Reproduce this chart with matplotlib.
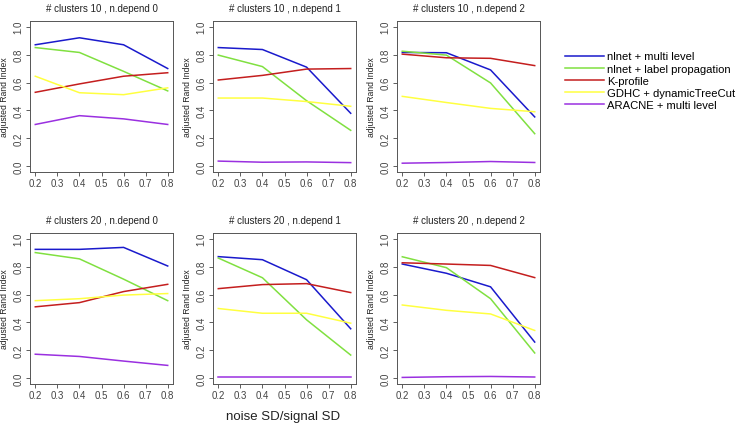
import matplotlib
matplotlib.use('Agg')
import matplotlib.pyplot as plt

plt.rcParams['font.family'] = ['Liberation Sans', 'DejaVu Sans']

noise = [0.2, 0.4, 0.6, 0.8]

methods = ['nlnet + multi level', 'nlnet + label propagation', 'K-profile',
           'GDHC + dynamicTreeCut', 'ARACNE + multi level']
colors = ['#1a1acc', '#80e040', '#c41e1e', '#ffff40', '#9a30e0']

titles = ['# clusters 10 , n.depend 0', '# clusters 10 , n.depend 1', '# clusters 10 , n.depend 2',
          '# clusters 20 , n.depend 0', '# clusters 20 , n.depend 1', '# clusters 20 , n.depend 2']

# one row per method: blue, green, red, yellow, purple
c10_d0 = [[0.87, 0.92, 0.87, 0.70],
          [0.85, 0.815, 0.68, 0.54],
          [0.53, 0.59, 0.645, 0.67],
          [0.645, 0.527, 0.513, 0.562],
          [0.30, 0.363, 0.34, 0.30]]
c10_d1 = [[0.85, 0.836, 0.71, 0.38],
          [0.796, 0.714, 0.47, 0.258],
          [0.618, 0.651, 0.696, 0.70],
          [0.489, 0.489, 0.464, 0.43],
          [0.038, 0.03, 0.032, 0.027]]
c10_d2 = [[0.815, 0.813, 0.69, 0.354],
          [0.824, 0.796, 0.597, 0.234],
          [0.803, 0.777, 0.773, 0.721],
          [0.501, 0.457, 0.415, 0.391],
          [0.023, 0.028, 0.035, 0.028]]
c20_d0 = [[0.923, 0.923, 0.937, 0.804],
          [0.90, 0.855, 0.71, 0.556],
          [0.512, 0.542, 0.621, 0.673],
          [0.556, 0.57, 0.596, 0.607],
          [0.173, 0.157, 0.124, 0.093]]
c20_d1 = [[0.871, 0.849, 0.706, 0.355],
          [0.861, 0.72, 0.419, 0.167],
          [0.642, 0.671, 0.678, 0.614],
          [0.50, 0.466, 0.466, 0.395],
          [0.012, 0.012, 0.012, 0.012]]
c20_d2 = [[0.818, 0.752, 0.655, 0.26],
          [0.87, 0.792, 0.57, 0.182],
          [0.827, 0.818, 0.808, 0.721],
          [0.525, 0.487, 0.461, 0.343],
          [0.007, 0.012, 0.014, 0.01]]
panels = [c10_d0, c10_d1, c10_d2, c20_d0, c20_d1, c20_d2]

W, H = 744, 431
fig = plt.figure(figsize=(W / 100, H / 100), dpi=100)

lefts = [30, 213, 397]
tops = [22, 234]
aw, ah = 143, 151

for i, data in enumerate(panels):
    left = lefts[i % 3]
    top = tops[i // 3]
    ax = fig.add_axes([left / W, (H - top - ah) / H, aw / W, ah / H])
    for k, vals in enumerate(data):
        ax.plot(noise, vals, color=colors[k], lw=1.1, label=methods[k])
    ax.set_xlim(0.176, 0.824)
    ax.set_ylim(-0.04, 1.04)
    ax.set_xticks([0.2, 0.3, 0.4, 0.5, 0.6, 0.7, 0.8])
    ax.set_yticks([0.0, 0.2, 0.4, 0.6, 0.8, 1.0])
    ax.set_yticklabels(['0.0', '0.2', '0.4', '0.6', '0.8', '1.0'], rotation=90, va='center')
    ax.tick_params(labelsize=7, colors='#444444', length=3, width=0.6, pad=1.5)
    for s in ax.spines.values():
        s.set_color('#555555')
        s.set_linewidth(0.7)
    ax.set_title(titles[i], fontsize=7, pad=7, color='#222222')
    ax.set_ylabel('adjusted Rand Index', fontsize=6.2, color='#222222')
    ax.yaxis.set_label_coords(-0.15, 0.5)

fig.text(283 / W, 1 - 417 / H, 'noise SD/signal SD', fontsize=9.5, ha='center', va='center',
         color='#222222')

handles = [plt.Line2D([], [], color=c, lw=1.1) for c in colors]
fig.legend(handles, methods, loc='upper left', bbox_to_anchor=(560 / W, 1 - 48 / H),
           frameon=False, fontsize=8.1, handlelength=3.5, labelspacing=0.18,
           handletextpad=0.3, borderaxespad=0)

fig.savefig('out.png', dpi=100)
